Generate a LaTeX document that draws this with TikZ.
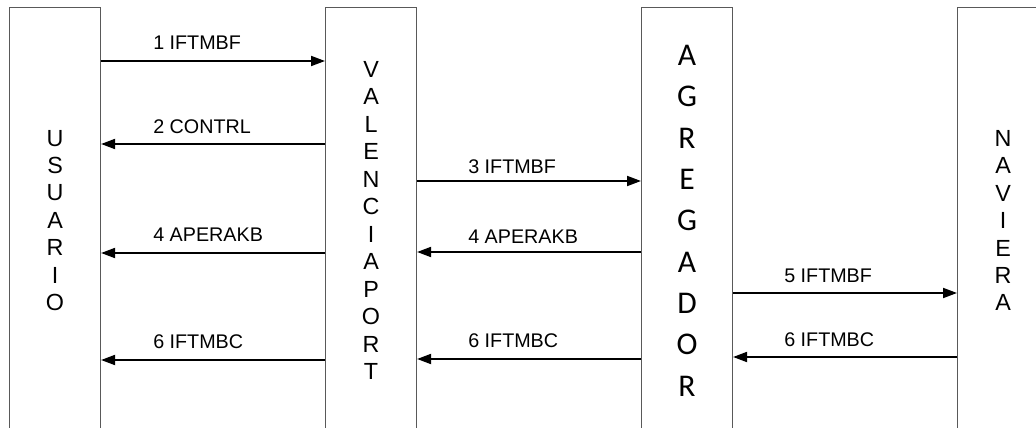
\documentclass[tikz,border=0pt]{standalone}
\usepackage{fontspec}
\setmainfont{Liberation Sans}
\newfontfamily\agrfont{Carlito}
\usetikzlibrary{arrows.meta}

\tikzset{
  actor/.style={draw=black!65, line width=0.8pt, minimum width=68.25pt, minimum height=319.5pt,
    anchor=north west, inner sep=0pt, align=center, font=\fontsize{17.5}{20.6}\selectfont},
  msg/.style={line width=1.4pt, -{Triangle[length=10.5pt,width=7.5pt]}},
  lbl/.style={anchor=base west, inner sep=0pt, font=\fontsize{14.8}{17}\selectfont},
}

\begin{document}
\begin{tikzpicture}[x=0.75pt, y=-0.75pt]
				\useasboundingbox (0, 0) rectangle (1036, 428);
				\clip (0, 0) rectangle (1036, 428);
				
				% the four parties
				\node[actor] (usu) at (9, 7) {U\\S\\U\\A\\R\\I\\O};
				\node[actor] (val) at (325, 7) {V\\A\\L\\E\\N\\C\\I\\A\\P\\O\\R\\T};
				\node[actor, font=\agrfont\fontsize{23.7}{31}\selectfont] (agr) at (641, 7) {A\\G\\R\\E\\G\\A\\D\\O\\R};
				\node[actor] (nav) at (957, 7) {N\\A\\V\\I\\E\\R\\A};
				
				% usuario <-> valenciaport
				\draw[msg] (usu.east |- 0, 61) -- (val.west |- 0, 61);
				\node[lbl] (m1) at (153, 50) {1 IFTMBF};
				\draw[msg] (val.west |- 0, 144) -- (usu.east |- 0, 144);
				\node[lbl] (m2) at (153, 133) {2 CONTRL};
				\draw[msg] (val.west |- 0, 253) -- (usu.east |- 0, 253);
				\node[lbl] (m4a) at (153, 241) {4 APERAKB};
				\draw[msg] (val.west |- 0, 360) -- (usu.east |- 0, 360);
				\node[lbl] (m6a) at (153, 348) {6 IFTMBC};
				
				% valenciaport <-> agregador
				\draw[msg] (val.east |- 0, 181) -- (agr.west |- 0, 181);
				\node[lbl] (m3) at (468, 173) {3 IFTMBF};
				\draw[msg] (agr.west |- 0, 252) -- (val.east |- 0, 252);
				\node[lbl] (m4b) at (468, 243) {4 APERAKB};
				\draw[msg] (agr.west |- 0, 359) -- (val.east |- 0, 359);
				\node[lbl] (m6b) at (468, 347) {6 IFTMBC};
				
				% agregador <-> naviera
				\draw[msg] (agr.east |- 0, 293) -- (nav.west |- 0, 293);
				\node[lbl] (m5) at (784, 282) {5 IFTMBF};
				\draw[msg] (nav.west |- 0, 357) -- (agr.east |- 0, 357);
				\node[lbl] (m6c) at (784, 346) {6 IFTMBC};
			\end{tikzpicture}
\end{document}
